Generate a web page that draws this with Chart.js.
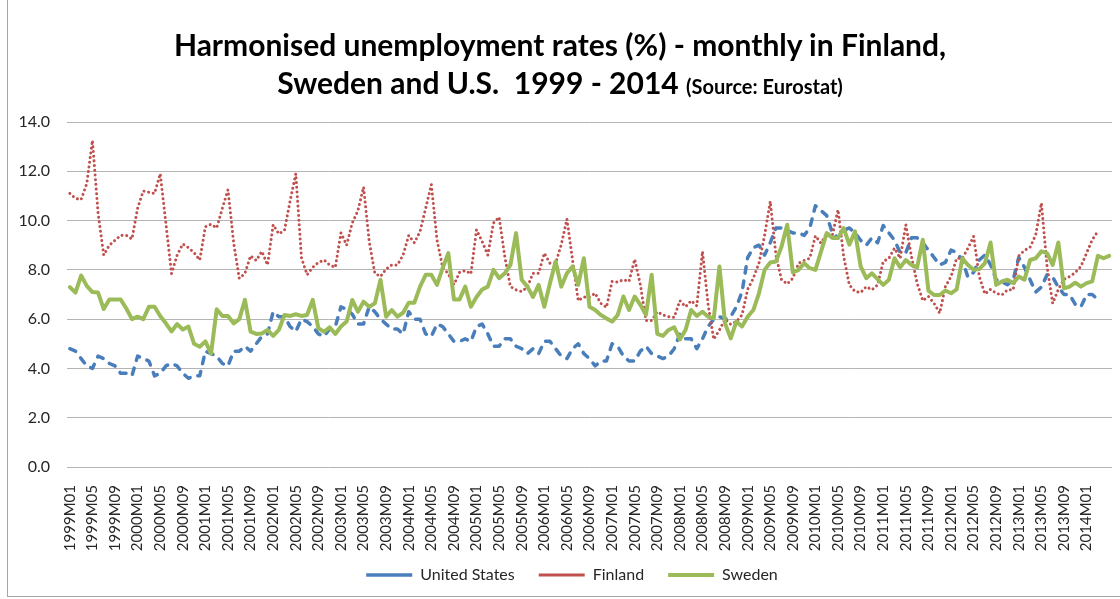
<!DOCTYPE html>
<html>
<head>
<meta charset="utf-8">
<title>Harmonised unemployment rates</title>
<script src="https://cdn.jsdelivr.net/npm/chart.js@4.4.1/dist/chart.umd.min.js"></script>
<style>
  body { margin: 0; background: #fff; }
  #wrap { position: relative; width: 1120px; height: 599px; overflow: hidden; font-family: Lato, 'Open Sans', sans-serif; }
  #frame { position: absolute; left: 7px; top: -2px; width: 1120px; height: 599px; border: 1px solid #a6a6a6; box-sizing: border-box; }
  #title { position: absolute; left: 0; top: 25px; width: 1120px; text-align: center; font-weight: bold; font-size: 30px; line-height: 38px; color: #000; }
  #title .src { font-size: 20px; }
  canvas { position: absolute; left: 0; top: 0; }
</style>
</head>
<body>
<div id="wrap">
  <div id="frame"></div>
  <canvas id="chart" width="1120" height="599"></canvas>
  <div id="title">Harmonised unemployment rates (%) - monthly in Finland,<br>Sweden and U.S.&nbsp; 1999 - 2014 <span class="src">(Source: Eurostat)</span></div>
</div>
<script>
// --- Datos ---
const years = [1999, 2000, 2001, 2002, 2003, 2004, 2005, 2006, 2007, 2008, 2009, 2010, 2011, 2012, 2013, 2014];
const monthCodes = ['M01', 'M02', 'M03', 'M04', 'M05', 'M06', 'M07', 'M08', 'M09', 'M10', 'M11', 'M12'];
const lastMonth = '2014M05';
const lastTickLabel = '2014M01';
const tickEvery = 4;
const yTicks = [0, 2, 4, 6, 8, 10, 12, 14];

// categorías mensuales 1999M01 .. 2014M05
const months = [];
for (const y of years) {
    for (const m of monthCodes) {
        if (months[months.length - 1] !== lastMonth) months.push(`${y}${m}`);
    }
}
const lastTickIndex = months.indexOf(lastTickLabel);

const usRate = [
    4.8, 4.7, 4.4, 4.1, 4.0, 4.5, 4.4, 4.2, 4.1, 3.8, 3.8, 3.7,
    4.5, 4.4, 4.3, 3.7, 3.8, 4.1, 4.2, 4.1, 3.8, 3.6, 3.7, 3.7,
    4.7, 4.6, 4.5, 4.2, 4.1, 4.7, 4.7, 4.9, 4.7, 5.0, 5.3, 5.4,
    6.3, 6.1, 6.1, 5.7, 5.5, 6.0, 5.9, 5.7, 5.4, 5.3, 5.6, 5.7,
    6.5, 6.4, 6.2, 5.8, 5.8, 6.5, 6.3, 6.0, 5.8, 5.6, 5.6, 5.4,
    6.3, 6.0, 6.0, 5.4, 5.3, 5.8, 5.7, 5.4, 5.1, 5.1, 5.2, 5.1,
    5.7, 5.8, 5.4, 4.9, 4.9, 5.2, 5.2, 4.9, 4.8, 4.6, 4.8, 4.6,
    5.1, 5.1, 4.8, 4.5, 4.4, 4.8, 5.0, 4.6, 4.4, 4.1, 4.3, 4.3,
    5.0, 4.9, 4.5, 4.3, 4.3, 4.7, 4.9, 4.6, 4.5, 4.4, 4.5, 4.8,
    5.4, 5.2, 5.2, 4.8, 5.2, 5.7, 6.0, 6.1, 6.0, 6.1, 6.5, 7.1,
    8.5, 8.9, 9.0, 8.6, 9.1, 9.7, 9.7, 9.6, 9.5, 9.5, 9.4, 9.7,
    10.6, 10.4, 10.2, 9.5, 9.3, 9.6, 9.7, 9.5, 9.2, 9.0, 9.3, 9.1,
    9.8, 9.5, 9.2, 8.7, 8.7, 9.3, 9.3, 9.1, 8.8, 8.5, 8.2, 8.3,
    8.8, 8.7, 8.4, 7.7, 7.9, 8.4, 8.6, 8.2, 7.6, 7.5, 7.4, 7.6,
    8.5, 8.1, 7.6, 7.1, 7.3, 7.8, 7.7, 7.3, 7.0, 7.0, 6.6, 6.5,
    7.0, 7.0, 6.8
];

const finlandRate = [
    11.1, 10.9, 10.85, 11.5, 13.25, 10.3, 8.6, 9.0, 9.2, 9.4, 9.4, 9.25,
    10.5, 11.2, 11.15, 11.1, 11.9, 9.9, 7.85, 8.6, 9.05, 8.9, 8.7, 8.4,
    9.75, 9.85, 9.7, 10.5, 11.25, 9.1, 7.65, 7.86, 8.57, 8.38, 8.75, 8.2,
    9.83, 9.46, 9.6, 10.8, 11.9, 8.5, 7.8, 8.1, 8.3, 8.4, 8.2, 8.1,
    9.5, 9.0, 9.9, 10.4, 11.36, 9.15, 7.86, 7.73, 8.03, 8.2, 8.2, 8.6,
    9.4, 9.1, 9.56, 10.5, 11.46, 9.22, 8.1, 7.84, 7.4, 7.9, 7.97, 7.84,
    9.63, 9.15, 8.6, 9.9, 10.14, 8.54, 7.32, 7.19, 7.12, 7.3, 7.86, 7.86,
    8.68, 8.27, 8.27, 9.02, 10.06, 8.4, 6.75, 6.9, 6.9, 7.05, 6.64, 6.48,
    7.53, 7.5, 7.6, 7.53, 8.43, 7.4, 5.94, 5.94, 6.3, 6.17, 6.1, 6.07,
    6.75, 6.5, 6.75, 6.54, 8.75, 6.58, 5.18, 5.56, 6.0, 5.79, 5.9, 6.17,
    7.21, 7.66, 8.27, 9.4, 10.78, 8.6, 7.6, 7.43, 7.66, 8.27, 8.38, 8.47,
    9.38, 9.08, 9.49, 9.42, 10.44, 8.54, 7.39, 7.12, 7.08, 7.32, 7.19, 7.39,
    8.34, 8.47, 8.88, 8.47, 9.83, 8.54, 7.46, 6.75, 6.92, 6.64, 6.24, 7.32,
    7.73, 8.47, 8.47, 8.88, 9.36, 7.73, 7.02, 7.21, 7.05, 6.98, 7.19, 7.19,
    8.57, 8.79, 8.92, 9.42, 10.71, 8.14, 6.64, 7.21, 7.62, 7.73, 7.89, 8.14,
    8.68, 9.22, 9.56
];

const swedenRate = [
    7.3, 7.08, 7.77, 7.35, 7.1, 7.08, 6.41, 6.8, 6.8, 6.8, 6.43, 6.0,
    6.1, 6.0, 6.5, 6.5, 6.13, 5.83, 5.5, 5.8, 5.58, 5.7, 5.0, 4.88,
    5.1, 4.6, 6.4, 6.13, 6.13, 5.83, 6.0, 6.78, 5.49, 5.4, 5.42, 5.56,
    5.32, 5.56, 6.17, 6.13, 6.2, 6.13, 6.17, 6.78, 5.63, 5.49, 5.67, 5.4,
    5.7, 5.9, 6.78, 6.3, 6.71, 6.5, 6.64, 7.6, 6.1, 6.37, 6.1, 6.26,
    6.67, 6.67, 7.32, 7.8, 7.8, 7.39, 8.07, 8.68, 6.8, 6.8, 7.32, 6.5,
    6.9, 7.2, 7.32, 8.0, 7.66, 7.86, 8.2, 9.49, 7.6, 7.32, 6.9, 7.39,
    6.5, 7.46, 8.34, 7.32, 7.86, 8.14, 7.39, 8.47, 6.5, 6.37, 6.17, 6.03,
    5.9, 6.17, 6.92, 6.37, 6.92, 6.58, 6.17, 7.8, 5.4, 5.32, 5.56, 5.67,
    5.18, 5.56, 6.37, 6.13, 6.3, 6.1, 6.03, 8.14, 5.83, 5.22, 5.9, 5.7,
    6.1, 6.37, 7.05, 8.0, 8.3, 8.34, 8.95, 9.83, 7.89, 8.0, 8.27, 8.07,
    8.0, 8.75, 9.49, 9.29, 9.29, 9.69, 9.02, 9.56, 8.14, 7.66, 7.86, 7.62,
    7.39, 7.6, 8.47, 8.1, 8.4, 8.2, 8.1, 9.22, 7.16, 6.98, 6.98, 7.16,
    7.05, 7.21, 8.47, 8.2, 8.0, 8.03, 8.27, 9.11, 7.39, 7.53, 7.6, 7.46,
    7.73, 7.6, 8.4, 8.47, 8.75, 8.68, 8.2, 9.11, 7.25, 7.32, 7.48, 7.32,
    7.46, 7.53, 8.57, 8.47, 8.57
];

// --- Estilos ---
const FONT = 'Lato, "Open Sans", sans-serif';
const TEXT_COLOR = '#262626';
const GRID_COLOR = '#b4b4b4';

// mueve la leyenda: un poco a la derecha y hacia arriba, como en el original
const legendShift = {
    id: 'legendShift',
    afterLayout(chart) {
        const lg = chart.legend;
        if (lg) {
            lg.left += 16; lg.right += 16;
            lg.top -= 12; lg.bottom -= 12;
        }
    }
};

const ctx = document.getElementById('chart').getContext('2d');
new Chart(ctx, {
    type: 'line',
    data: {
        labels: months,
        datasets: [
            { label: 'United States', data: usRate, borderColor: '#4a7ebb', borderWidth: 3.5,
              borderDash: [6.5, 8], borderCapStyle: 'round', order: 3 },
            { label: 'Finland', data: finlandRate, borderColor: '#c0504d', borderWidth: 3,
              borderDash: [0.01, 4.7], borderCapStyle: 'round', order: 2 },
            { label: 'Sweden', data: swedenRate, borderColor: '#9bbb59', borderWidth: 4,
              borderCapStyle: 'round', order: 1 }
        ]
    },
    options: {
        responsive: false,
        animation: false,
        layout: { padding: { top: 122, right: 8, bottom: -6, left: 0 } },
        elements: {
            point: { radius: 0, hoverRadius: 0 },
            line: { tension: 0, fill: false, borderJoinStyle: 'round' }
        },
        scales: {
            x: {
                offset: true,
                grid: { display: false },
                border: { display: false },
                ticks: {
                    autoSkip: false, minRotation: 90, maxRotation: 90, padding: 10,
                    color: TEXT_COLOR, font: { family: FONT, size: 15 },
                    callback: function (v, i) {
                        return (i % tickEvery === 0 && i <= lastTickIndex) ? this.getLabelForValue(v) : null;
                    }
                },
                afterFit: s => { s.height = 88; }
            },
            y: {
                min: yTicks[0], max: yTicks[yTicks.length - 1],
                afterBuildTicks: s => { s.ticks = yTicks.map(v => ({ value: v })); },
                grid: { color: GRID_COLOR, lineWidth: 1, drawTicks: false },
                border: { display: false },
                ticks: {
                    padding: 17, color: TEXT_COLOR, font: { family: FONT, size: 16 },
                    callback: v => Number(v).toFixed(1)
                },
                afterFit: s => { s.width = 67; }
            }
        },
        plugins: {
            legend: {
                position: 'bottom',
                labels: {
                    usePointStyle: true, pointStyle: 'line', pointStyleWidth: 46, padding: 24,
                    color: TEXT_COLOR, font: { family: FONT, size: 16 },
                    sort: (a, b) => a.datasetIndex - b.datasetIndex
                }
            },
            tooltip: { enabled: false }
        }
    },
    plugins: [legendShift]
});
</script>
</body>
</html>
